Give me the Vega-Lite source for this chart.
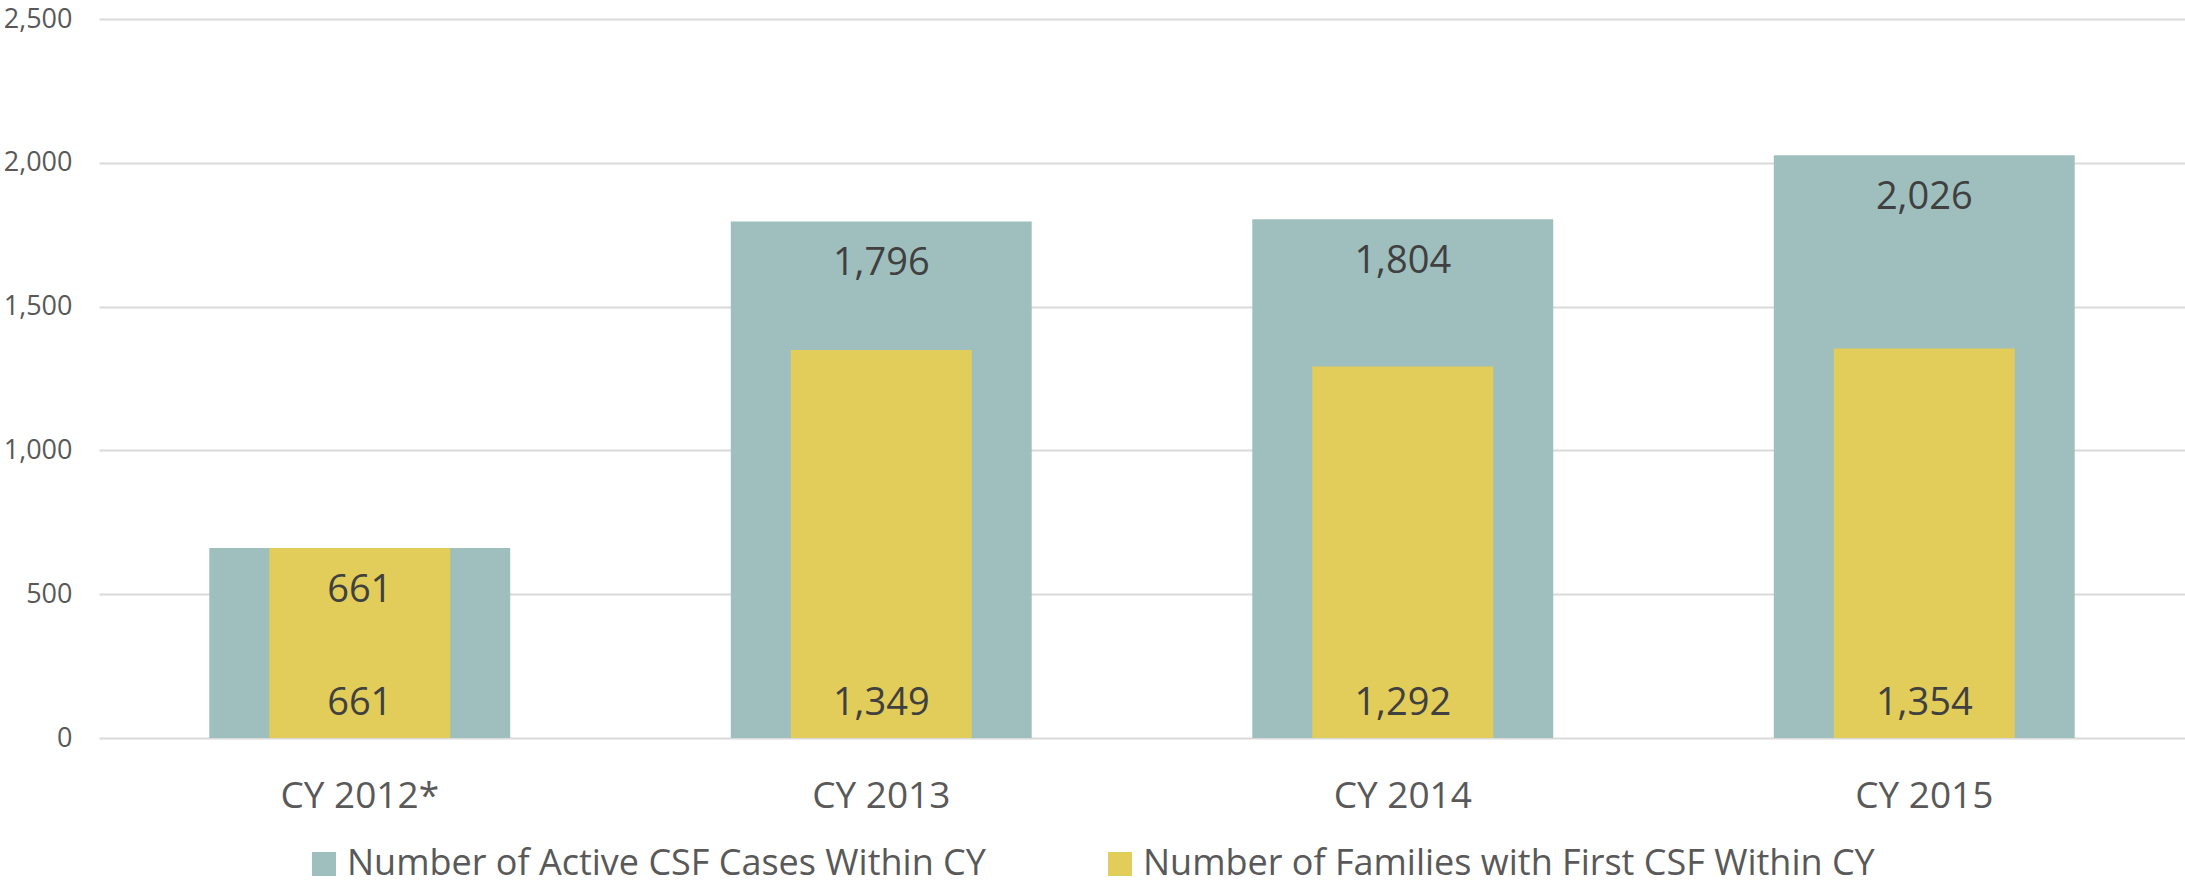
{
  "$schema": "https://vega.github.io/schema/vega-lite/v6.json",
  "autosize": "none",
  "width": 2086,
  "height": 719,
  "padding": {"left": 99, "top": 19, "right": 0, "bottom": 148},
  "background": "white",
  "config": {
    "font": "Open Sans",
    "view": {"stroke": null},
    "axis": {"labelFont": "Open Sans", "labelColor": "#595959"}
  },
  "data": {
    "values": [
      {"cy": "CY 2012*", "series": "Number of Active CSF Cases Within CY", "value": 661},
      {"cy": "CY 2013", "series": "Number of Active CSF Cases Within CY", "value": 1796},
      {"cy": "CY 2014", "series": "Number of Active CSF Cases Within CY", "value": 1804},
      {"cy": "CY 2015", "series": "Number of Active CSF Cases Within CY", "value": 2026},
      {"cy": "CY 2012*", "series": "Number of Families with First CSF Within CY", "value": 661},
      {"cy": "CY 2013", "series": "Number of Families with First CSF Within CY", "value": 1349},
      {"cy": "CY 2014", "series": "Number of Families with First CSF Within CY", "value": 1292},
      {"cy": "CY 2015", "series": "Number of Families with First CSF Within CY", "value": 1354}
    ]
  },
  "encoding": {
    "x": {
      "field": "cy",
      "type": "nominal",
      "sort": null,
      "scale": {"paddingInner": 0, "paddingOuter": 0},
      "axis": {
        "title": null,
        "labelAngle": 0,
        "labelFontSize": 37,
        "labelPadding": 40,
        "domain": false,
        "ticks": false
      }
    },
    "y": {
      "field": "value",
      "type": "quantitative",
      "scale": {"domain": [0, 2500]},
      "axis": {
        "title": null,
        "values": [0, 500, 1000, 1500, 2000, 2500],
        "format": ",.0f",
        "labelFontSize": 27,
        "labelPadding": 27,
        "domain": false,
        "ticks": false,
        "gridColor": "#d9d9d9",
        "gridWidth": 2
      }
    }
  },
  "layer": [
    {
      "transform": [{"filter": "datum.series === 'Number of Active CSF Cases Within CY'"}],
      "mark": {"type": "bar", "width": {"band": 0.577}},
      "encoding": {
        "color": {
          "field": "series",
          "type": "nominal",
          "scale": {
            "domain": ["Number of Active CSF Cases Within CY", "Number of Families with First CSF Within CY"],
            "range": ["#9fbfbe", "#e2cc5a"]
          },
          "legend": {
            "title": null,
            "orient": "none",
            "direction": "horizontal",
            "legendX": 207,
            "legendY": 827,
            "symbolType": "square",
            "symbolSize": 576,
            "symbolStrokeWidth": 0,
            "labelFontSize": 36,
            "labelFont": "Open Sans",
            "labelColor": "#595959",
            "labelOffset": 5,
            "columnPadding": 116,
            "labelLimit": 1000
          }
        }
      }
    },
    {
      "transform": [{"filter": "datum.series === 'Number of Families with First CSF Within CY'"}],
      "mark": {"type": "bar", "width": {"band": 0.347}},
      "encoding": {"color": {"field": "series", "type": "nominal"}}
    },
    {
      "transform": [{"filter": "datum.series === 'Number of Active CSF Cases Within CY'"}],
      "mark": {"type": "text", "baseline": "middle", "dy": 43, "fontSize": 38, "color": "#404040", "font": "Open Sans"},
      "encoding": {"text": {"field": "value", "type": "quantitative", "format": ","}}
    },
    {
      "transform": [{"filter": "datum.series === 'Number of Families with First CSF Within CY'"}],
      "mark": {"type": "text", "baseline": "middle", "dy": -34, "fontSize": 38, "color": "#404040", "font": "Open Sans"},
      "encoding": {
        "y": {"datum": 0},
        "text": {"field": "value", "type": "quantitative", "format": ","}
      }
    }
  ]
}
